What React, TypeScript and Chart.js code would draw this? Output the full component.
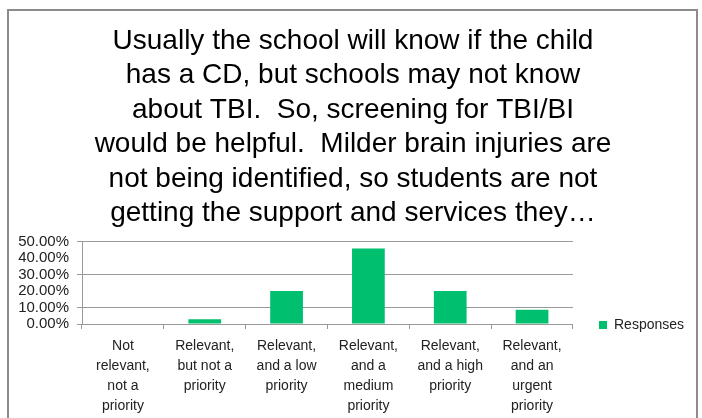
import React, { useEffect, useRef } from "react";
import { Chart, registerables } from "chart.js";

Chart.register(...registerables);

const categories: string[][] = [
  ["Not", "relevant,", "not a", "priority"],
  ["Relevant,", "but not a", "priority"],
  ["Relevant,", "and a low", "priority"],
  ["Relevant,", "and a", "medium", "priority"],
  ["Relevant,", "and a high", "priority"],
  ["Relevant,", "and an", "urgent", "priority"],
];

const responses: number[] = [0, 2.86, 20.0, 45.71, 20.0, 8.57];

const titleLines: string[] = [
  "Usually the school will know if the child",
  "has a CD, but schools may not know",
  "about TBI.  So, screening for TBI/BI",
  "would be helpful.  Milder brain injuries are",
  "not being identified, so students are not",
  "getting the support and services they\u2026",
];

const seriesName = "Responses";
const yMin = 0;
const yMax = 50;
const yStep = 10;
const gridValues: number[] = [0, 10, 30, 50];

const GRID = "#9a9a9a";
const BAR = "#00BF6F";
const FONT = "'Liberation Sans', Arial, sans-serif";

const legendShift = {
  id: "legendShift",
  afterLayout(chart: any) {
    const lg = chart.legend;
    if (!lg) return;
    const pad = lg.options.labels.padding;
    const w = lg.width;
    const h = lg.height;
    lg.left = 599 - pad;
    lg.right = lg.left + w;
    lg.top = 318 - pad;
    lg.bottom = lg.top + h;
  },
};

export default function App() {
  const ref = useRef<HTMLCanvasElement | null>(null);

  useEffect(() => {
    if (!ref.current) return;
    const chart = new Chart(ref.current, {
      type: "bar",
      data: {
        labels: categories,
        datasets: [
          {
            label: seriesName,
            data: responses,
            backgroundColor: BAR,
            borderWidth: 0,
            categoryPercentage: 1,
            barPercentage: 0.4,
          },
        ],
      },
      plugins: [legendShift],
      options: {
        responsive: false,
        animation: false,
        devicePixelRatio: 1,
        layout: { padding: { left: 4, right: 0, top: 0, bottom: 0 } },
        plugins: {
          tooltip: { enabled: false },
          title: {
            display: true,
            text: titleLines,
            color: "#000000",
            font: { family: FONT, size: 28, weight: "normal", lineHeight: "34.4px" },
            padding: { top: 24, bottom: 11 },
          },
          legend: {
            display: true,
            position: "right",
            align: "start",
            fullSize: false,
            labels: {
              boxWidth: 8,
              boxHeight: 8,
              padding: 34,
              color: "#222222",
              font: { family: FONT, size: 14 },
            },
          },
        },
        scales: {
          x: {
            afterFit: (s: any) => {
              s.height = 94;
            },
            grid: {
              offset: true,
              drawOnChartArea: false,
              drawTicks: true,
              tickLength: 5,
              color: GRID,
            },
            border: { display: true, color: GRID },
            ticks: {
              autoSkip: false,
              maxRotation: 0,
              padding: 7,
              color: "#222222",
              font: { family: FONT, size: 14, lineHeight: "20px" },
            },
          },
          y: {
            min: yMin,
            max: yMax,
            afterFit: (s: any) => {
              s.width = 78;
            },
            grid: {
              drawTicks: true,
              tickLength: 5,
              color: (ctx: any) =>
                ctx.tick && gridValues.includes(ctx.tick.value) ? GRID : "rgba(0,0,0,0)",
              tickColor: (ctx: any) =>
                ctx.tick && gridValues.includes(ctx.tick.value) ? GRID : "rgba(0,0,0,0)",
            },
            border: { display: true, color: GRID },
            ticks: {
              stepSize: yStep,
              autoSkip: false,
              padding: 8,
              color: "#222222",
              font: { family: FONT, size: 15 },
              callback: (v: any) => Number(v).toFixed(2) + "%",
            },
          },
        },
      },
    });
    return () => chart.destroy();
  }, []);

  return (
    <div
      style={{
        position: "fixed",
        left: 0,
        top: 0,
        width: 702,
        height: 418,
        overflow: "hidden",
        background: "#ffffff",
      }}
    >
      <div
        style={{
          position: "absolute",
          left: 7,
          top: 9,
          width: 691,
          height: 430,
          boxSizing: "border-box",
          border: "2px solid #8c8c8c",
        }}
      />
      <canvas
        ref={ref}
        width={702}
        height={418}
        style={{ position: "absolute", left: 0, top: 0, width: 702, height: 418 }}
      />
    </div>
  );
}
